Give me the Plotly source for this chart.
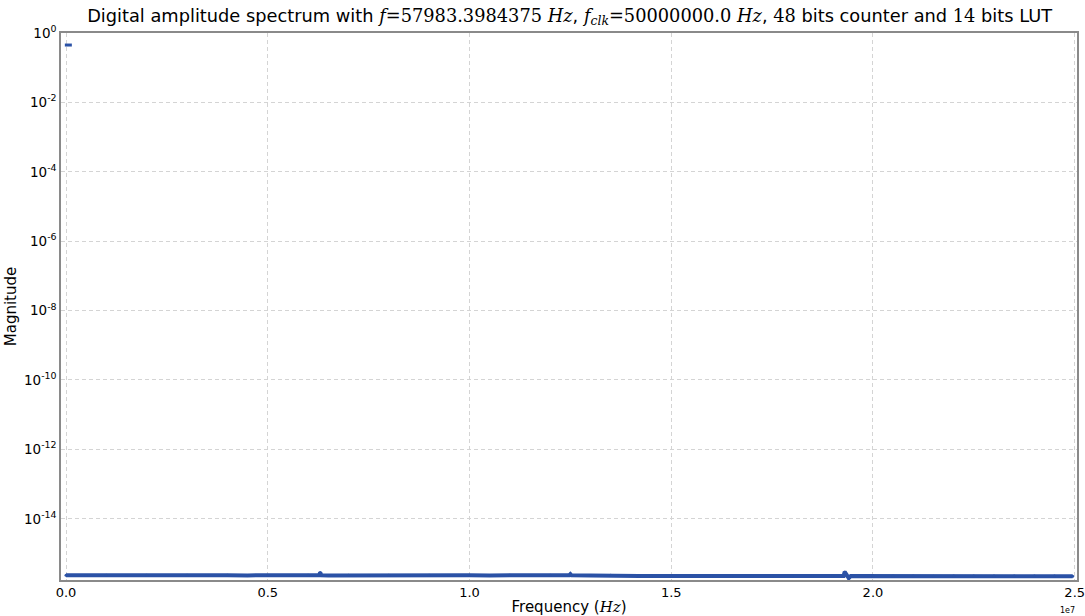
import plotly.graph_objects as go

# ---- data ----
peak_freq_hz = [57983.3984375]
peak_mag = [0.45]

noise_freq_hz = [0.0e6, 0.5e6, 1.0e6, 1.5e6, 2.0e6, 2.5e6, 3.0e6, 3.5e6, 4.0e6, 4.5e6,
                 5.0e6, 5.5e6, 6.0e6, 6.27e6, 6.3e6, 6.33e6, 6.5e6, 7.0e6, 7.5e6, 8.0e6, 8.5e6, 9.0e6,
                 9.5e6, 10.0e6, 10.5e6, 11.0e6, 11.5e6, 12.0e6, 12.47e6, 12.5e6, 12.53e6, 13.0e6, 13.5e6, 14.0e6,
                 14.2e6, 14.5e6, 15.0e6, 15.5e6, 16.0e6, 16.5e6, 17.0e6, 17.5e6, 18.0e6, 18.5e6,
                 19.0e6, 19.27e6, 19.3e6, 19.35e6, 19.4e6, 19.45e6, 19.5e6, 20.0e6, 20.5e6, 21.0e6, 21.5e6,
                 22.0e6, 22.5e6, 23.0e6, 23.5e6, 24.0e6, 24.5e6, 24.95e6]
noise_mag = [2.36e-16, 2.34e-16, 2.35e-16, 2.33e-16, 2.36e-16, 2.34e-16, 2.35e-16, 2.33e-16, 2.35e-16, 2.34e-16,
             2.36e-16, 2.33e-16, 2.35e-16, 2.35e-16, 2.85e-16, 2.35e-16, 2.34e-16, 2.36e-16, 2.33e-16, 2.35e-16,
             2.34e-16, 2.36e-16,
             2.33e-16, 2.35e-16, 2.34e-16, 2.36e-16, 2.33e-16, 2.35e-16, 2.35e-16, 2.55e-16, 2.35e-16, 2.34e-16,
             2.36e-16, 2.34e-16,
             2.24e-16, 2.23e-16, 2.25e-16, 2.22e-16, 2.24e-16, 2.23e-16, 2.25e-16, 2.24e-16, 2.22e-16, 2.24e-16,
             2.23e-16, 2.24e-16, 2.95e-16, 2.24e-16, 1.95e-16, 2.24e-16, 2.24e-16, 2.23e-16, 2.25e-16, 2.24e-16,
             2.22e-16,
             2.24e-16, 2.23e-16, 2.25e-16, 2.24e-16, 2.23e-16, 2.24e-16, 2.22e-16]

x_tick_vals = [0.0, 0.5e7, 1.0e7, 1.5e7, 2.0e7, 2.5e7]
x_tick_text = ["0.0", "0.5", "1.0", "1.5", "2.0", "2.5"]
y_tick_vals = [1e0, 1e-2, 1e-4, 1e-6, 1e-8, 1e-10, 1e-12, 1e-14]
y_tick_text = ["10<sup>0</sup>", "10<sup>-2</sup>", "10<sup>-4</sup>", "10<sup>-6</sup>",
               "10<sup>-8</sup>", "10<sup>-10</sup>", "10<sup>-12</sup>", "10<sup>-14</sup>"]

BLUE = "#2b52a6"
SERIF = "font-family:'DejaVu Serif', 'Liberation Serif', serif"

def m(s):
    return f"<span style=\"{SERIF}\"><i>{s}</i></span>"

def n(s):
    return f"<span style=\"{SERIF}\">{s}</span>"

title = ("Digital amplitude spectrum with " + m("f") + n("=57983.3984375 ") + m("Hz") + ", "
         + m("f") + f"<sub><span style=\"{SERIF}\"><i>clk</i></span></sub>" + n("=50000000.0 ") + m("Hz")
         + ", " + n("48") + " bits counter and " + n("14") + " bits LUT")

fig = go.Figure()
fig.add_trace(go.Scatter(x=noise_freq_hz, y=noise_mag, mode="lines+markers",
                         line=dict(color=BLUE, width=4), marker=dict(color=BLUE, size=3),
                         showlegend=False, hoverinfo="skip"))
fig.add_trace(go.Scatter(x=peak_freq_hz, y=peak_mag, mode="markers",
                         marker=dict(color=BLUE, symbol="line-ew", size=5,
                                     line=dict(color=BLUE, width=3)),
                         showlegend=False))

GRID = dict(showgrid=True, gridcolor="#d4d4d4", griddash="4px,3px", gridwidth=1)

fig.update_layout(
    width=1085, height=616,
    margin=dict(l=61, r=8, t=33, b=36),
    paper_bgcolor="white", plot_bgcolor="white",
    font=dict(family="DejaVu Sans", size=13, color="black"),
    title=dict(text=title, x=0.525, xanchor="center", xref="container",
               y=0.985, yanchor="top", yref="container",
               font=dict(family="DejaVu Sans", size=17.8, color="black")),
    xaxis=dict(range=[-1.24e5, 2.5057e7], tickvals=x_tick_vals, ticktext=x_tick_text,
               **GRID,
               showline=True, linecolor="#8a8a8a", linewidth=1.5, mirror=True,
               zeroline=False, ticks="", tickfont=dict(size=13), automargin=False,
               ticklabeloverflow="allow",
               title=dict(text="Frequency (" + m("Hz") + ")", font=dict(size=15), standoff=2)),
    yaxis=dict(type="log", range=[-15.764, 0], tickvals=y_tick_vals, ticktext=y_tick_text,
               **GRID,
               showline=True, linecolor="#8a8a8a", linewidth=1.5, mirror=True,
               zeroline=False, ticks="", tickfont=dict(size=13.5), automargin=False,
               ticklabeloverflow="allow",
               title=dict(text="Magnitude", font=dict(size=15), standoff=4)),
    annotations=[dict(text="1e7", xref="paper", yref="paper", x=1.0, y=-0.043,
                      xanchor="right", yanchor="top", showarrow=False,
                      font=dict(size=8, color="black"))],
)

fig.write_html("out.html", config={"displayModeBar": False},
               post_script="document.body.style.margin='0';document.body.style.overflow='hidden';")
